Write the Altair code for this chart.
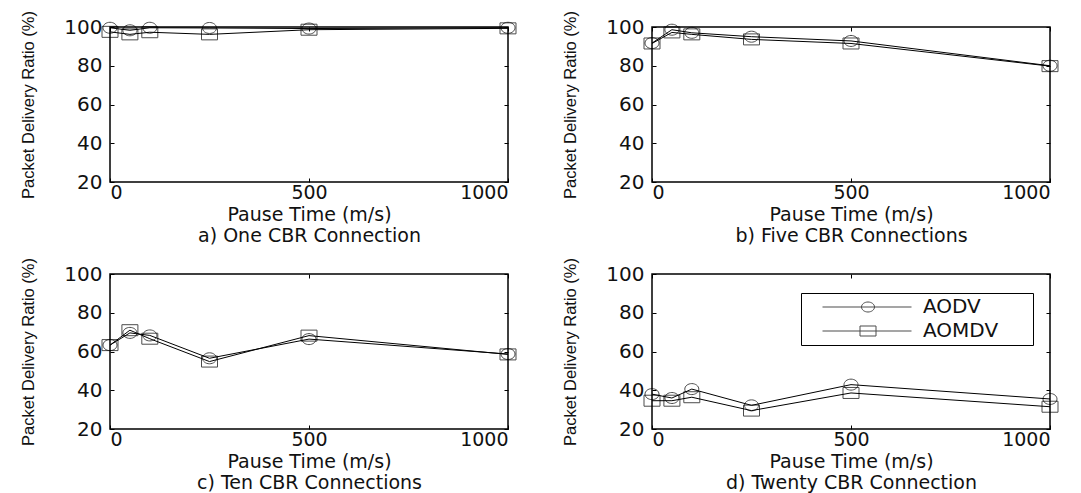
import altair as alt
import pandas as pd

pause = [0, 50, 100, 250, 500, 1000]
series = ["AODV", "AOMDV"]

a_aodv = [99.6, 98.3, 99.6, 99.5, 99.2, 99.6]
a_aomdv = [97.5, 96.2, 97.3, 96.2, 98.6, 99.3]
b_aodv = [91.7, 98.6, 97.0, 95.0, 92.8, 80.0]
b_aomdv = [91.5, 97.2, 96.2, 93.6, 91.5, 79.8]
c_aodv = [63.3, 69.6, 68.3, 56.5, 66.4, 58.7]
c_aomdv = [63.3, 71.0, 66.6, 54.8, 68.2, 58.5]
d_aodv = [38.0, 36.0, 40.6, 32.2, 42.9, 35.5]
d_aomdv = [34.6, 34.6, 36.4, 29.5, 38.6, 31.5]

subtitles = ["a) One CBR Connection", "b) Five CBR Connections",
             "c) Ten CBR Connections", "d) Twenty CBR Connection"]
x_title = "Pause Time (m/s)"
y_title = "Packet Delivery Ratio (%)"
x_ticks = [0, 500, 1000]
y_ticks = [20, 40, 60, 80, 100]

CIRCLE = "M-1.4,0A1.4,1.1,0,1,0,1.4,0A1.4,1.1,0,1,0,-1.4,0"
SQUARE = "M-1.6,-1.1H1.6V1.1H-1.6Z"
LEG_C = "M1.5,0H19.3M9.3,0A1.3,1.0,0,1,0,11.9,0A1.3,1.0,0,1,0,9.3,0M42.3,0"
LEG_S = "M1.5,0H19.3M9.0,-1.0H12.2V1.0H9.0ZM42.3,0"

TXT = "#111111"
W, H = 398, 155


def panel(v1, v2, subtitle, show_legend):
    df = pd.DataFrame({
        "pause": pause + pause,
        "pdr": v1 + v2,
        "protocol": [series[0]] * len(pause) + [series[1]] * len(pause),
    })
    xs = alt.Scale(domain=[0, 1000], nice=False, zero=False)
    ys = alt.Scale(domain=[20, 100], nice=False, zero=False)
    base = alt.Chart(df)
    line = base.mark_line(color="black", strokeWidth=1).encode(
        x=alt.X("pause:Q", scale=xs, axis=alt.Axis(
            orient="bottom", values=x_ticks, format="d", offset=-4, tickSize=4,
            tickColor="black", domain=False, grid=False, labelPadding=1,
            labelFont="DejaVu Sans", labelFontSize=19, labelColor=TXT,
            title=[x_title, subtitle], titleFont="DejaVu Sans", titleFontSize=19,
            titleFontWeight="normal", titleColor=TXT, titlePadding=3,
            titleLineHeight=21)),
        y=alt.Y("pdr:Q", scale=ys, axis=alt.Axis(
            orient="left", values=y_ticks, format="d", offset=-4, tickSize=4,
            tickColor="black", domain=False, grid=False, labelPadding=8,
            labelFont="DejaVu Sans", labelFontSize=20, labelColor=TXT,
            title=y_title, titleX=-78, titleFont="Liberation Sans",
            titleFontSize=16.5, titleFontWeight="normal", titleColor=TXT)),
        detail="protocol:N",
    )
    pts_c = base.transform_filter(alt.datum.protocol == series[0]).mark_point(
        filled=False, color="black", size=100, strokeWidth=1, shape=CIRCLE).encode(
        x=alt.X("pause:Q", scale=xs, axis=alt.Axis(
            orient="top", values=x_ticks, offset=-4, tickSize=4, tickColor="black",
            domain=False, grid=False, labels=False, title=None)),
        y=alt.Y("pdr:Q", scale=ys, axis=alt.Axis(
            orient="right", values=y_ticks, offset=-4, tickSize=4, tickColor="black",
            domain=False, grid=False, labels=False, title=None)),
    )
    pts_s = base.transform_filter(alt.datum.protocol == series[1]).mark_point(
        filled=False, color="black", size=100, strokeWidth=1, shape=SQUARE).encode(
        x=alt.X("pause:Q", scale=xs, axis=None),
        y=alt.Y("pdr:Q", scale=ys, axis=None),
    )
    layers = [line, pts_c, pts_s]
    if show_legend:
        legend = alt.Legend(
            orient="none", legendX=149, legendY=19, title=None, padding=4,
            rowPadding=4, labelFont="DejaVu Sans", labelFontSize=20,
            labelColor=TXT, labelOffset=98, symbolSize=100,
            symbolStrokeColor="black", symbolFillColor="transparent",
            symbolStrokeWidth=1, strokeColor="black", fillColor="white",
        )
        dummy = base.transform_filter("false").mark_point(
            filled=False, color="black", size=100, strokeWidth=1).encode(
            shape=alt.Shape("protocol:N",
                            scale=alt.Scale(domain=series, range=[LEG_C, LEG_S]),
                            legend=legend),
        )
        layers.append(dummy)
    return alt.layer(*layers).resolve_axis(x="independent", y="independent").properties(
        width=W, height=H)


pa = panel(a_aodv, a_aomdv, subtitles[0], False)
pb = panel(b_aodv, b_aomdv, subtitles[1], False)
pc = panel(c_aodv, c_aomdv, subtitles[2], False)
pd_ = panel(d_aodv, d_aomdv, subtitles[3], True)

row1 = alt.hconcat(pa, pb, spacing=42)
row2 = alt.hconcat(pc, pd_, spacing=42).resolve_scale(shape="independent").resolve_legend(
    shape="independent")

chart = alt.vconcat(row1, row2, spacing=10).resolve_scale(shape="independent").resolve_legend(
    shape="independent").properties(
    padding={"left": 11, "top": 1, "right": 5, "bottom": 0},
    background="white",
).configure_view(stroke="black", strokeWidth=1.5)

chart.save("out.html", embed_options={"renderer": "svg", "actions": False})
